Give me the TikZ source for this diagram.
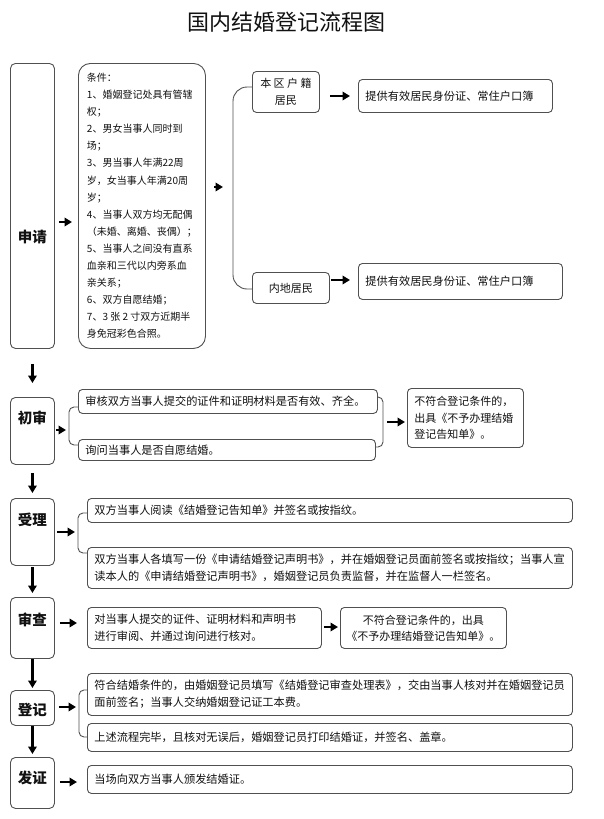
\documentclass[tikz,border=0pt]{standalone}
\usepackage{fontspec}
\setmainfont{Noto Sans CJK SC}
\usetikzlibrary{arrows.meta}
\definecolor{boxc}{HTML}{505050}
\definecolor{txtc}{HTML}{111111}
\begin{document}
\begin{tikzpicture}[x=1pt,y=-1pt,
  every node/.style={text=txtc},
  box/.style={draw=boxc, line width=0.9pt, rounded corners=4pt, anchor=north west, inner ysep=0pt, inner xsep=7pt, align=left, font=\fontsize{11.2pt}{17pt}\selectfont},
  stage/.style={draw=boxc, line width=0.9pt, rounded corners=5pt, anchor=north west, inner sep=0pt, minimum width=44pt},
  lab/.style={font=\fontsize{14.5pt}{16pt}\selectfont\bfseries, inner sep=0pt},
  arr/.style={draw=black, line width=2.3pt, -{Triangle[length=7.5pt,width=8.5pt]}},
  brk/.style={draw=boxc, line width=0.9pt, rounded corners=5pt},
]
\useasboundingbox[fill=white] (0,0) rectangle (603,819);

% title
\node[font=\fontsize{22pt}{24pt}\selectfont, inner sep=0pt] (title) at (286,22) {国内结婚登记流程图};

% stage boxes
\node[stage, minimum height=285pt] (shenqing) at (10,63) {};
\node[stage, minimum height=67pt] (chushen) at (10,397) {};
\node[stage, minimum height=67pt] (shouli) at (10,498) {};
\node[stage, minimum height=61pt] (shencha) at (10,597) {};
\node[stage, minimum height=35pt] (dengji) at (10,690) {};
\node[stage, minimum height=51pt] (fazheng) at (10,757) {};

\node[lab] (shenqing-l) at (shenqing.center |- 0,237) {申请};
\node[lab] (chushen-l) at (chushen.center |- 0,418) {初审};
\node[lab] (shouli-l) at (shouli.center |- 0,520) {受理};
\node[lab] (shencha-l) at (shencha.center |- 0,620) {审查};
\node[lab] (dengji-l) at (dengji.center |- 0,710) {登记};
\node[lab] (fazheng-l) at (fazheng.center |- 0,778) {发证};

% 申请 row
\node[box, rounded corners=12pt, align=left, inner xsep=0pt, minimum width=127pt, minimum height=285pt, font=\fontsize{10pt}{17.1pt}\selectfont] (conds) at (78,63)
{条件：\\1、婚姻登记处具有管辖\\权；\\2、男女当事人同时到\\场；\\3、男当事人年满22周\\岁，女当事人年满20周\\岁；\\4、当事人双方均无配偶\\（未婚、离婚、丧偶）；\\5、当事人之间没有直系\\血亲和三代以内旁系血\\亲关系；\\6、双方自愿结婚；\\7、3 张 2 寸双方近期半\\身免冠彩色合照。};

\node[box, align=center, inner xsep=0pt, minimum width=67pt, minimum height=41pt, font=\fontsize{11pt}{17pt}\selectfont] (benqu) at (252,71) {本 区 户 籍\\居民};
\node[box, align=center, inner xsep=0pt, minimum width=77pt, minimum height=31pt, font=\fontsize{11pt}{17pt}\selectfont] (neidi) at (252,272) {内地居民};
\node[box, text width=180pt, minimum height=33pt] (tigong1) at (358,79) {提供有效居民身份证、常住户口簿};
\node[box, text width=190pt, minimum height=36pt] (tigong2) at (358,263) {提供有效居民身份证、常住户口簿\\[-6pt]};

\coordinate (jbrk) at (233,187);
\draw[arr, shorten <=4pt, shorten >=6pt] (shenqing.east |- 0,222) -- (conds.west |- 0,222);
\draw[arr, shorten <=8pt, shorten >=10pt] (conds.east |- jbrk) -- (jbrk);
\draw[brk, rounded corners=14pt] (benqu.west |- 0,87) -- (jbrk |- 0,87) -- (jbrk |- 0,289) -- (neidi.west |- 0,289);
\draw[arr, shorten <=10pt, shorten >=8pt] (benqu.east |- 0,96) -- (tigong1.west |- 0,96);
\draw[arr, shorten <=1pt, shorten >=8pt] (neidi.east |- 0,280) -- (tigong2.west |- 0,280);

% 初审 row
\node[box, text width=285pt, minimum height=24pt] (shenhe) at (78,389) {审核双方当事人提交的证件和证明材料是否有效、齐全。};
\node[box, text width=283pt, minimum height=21pt] (xunwen) at (78,439) {询问当事人是否自愿结婚。};
\node[box, text width=102pt, minimum height=59pt, font=\fontsize{11pt}{16.5pt}\selectfont] (buhege1) at (407,388) {不符合登记条件的，\\出具《不予办理结婚\\登记告知单》。};
\coordinate (csb) at (69,430);
\coordinate (csr) at (383,422);
\draw[arr, shorten <=1pt, shorten >=3pt] (chushen.east |- csb) -- (csb);
\draw[brk] (shenhe.west |- 0,407) -- (csb |- 0,407) -- (csb |- 0,445) -- (xunwen.west |- 0,445);
\draw[brk] (shenhe.east |- 0,397) -- (csr |- 0,397) -- (csr |- 0,447) -- (xunwen.east |- 0,447);
\draw[arr, shorten <=4pt, shorten >=2pt] (csr) -- (buhege1.west |- csr);

% 受理 row
\node[box, text width=471pt, minimum height=24pt] (yuedu) at (87,498) {双方当事人阅读《结婚登记告知单》并签名或按指纹。};
\node[box, text width=471pt, minimum height=41pt] (tianxie) at (87,547) {双方当事人各填写一份《申请结婚登记声明书》，并在婚姻登记员面前签名或按指纹；当事人宣\\读本人的《申请结婚登记声明书》，婚姻登记员负责监督，并在监督人一栏签名。};
\coordinate (slb) at (78,532);
\draw[arr, shorten <=2pt, shorten >=3pt] (shouli.east |- slb) -- (slb);
\draw[brk] (yuedu.west |- 0,513) -- (slb |- 0,513) -- (slb |- 0,553) -- (tianxie.west |- 0,553);

% 审查 row
\node[box, text width=220pt, minimum height=41pt] (duidang) at (87,607) {对当事人提交的证件、证明材料和声明书\\进行审阅、并通过询问进行核对。};
\node[box, align=center, inner xsep=0pt, minimum width=166pt, minimum height=41pt, font=\fontsize{11pt}{16pt}\selectfont] (buhege2) at (340,607) {不符合登记条件的，出具\\《不予办理结婚登记告知单》。};
\draw[arr, shorten <=5pt, shorten >=10pt] (shencha.east |- 0,623) -- (duidang.west |- 0,623);
\draw[arr, shorten <=2pt, shorten >=2pt] (duidang.east |- 0,627) -- (buhege2.west |- 0,627);

% 登记 row
\node[box, text width=471pt, minimum height=42pt] (fuhe) at (87,673) {符合结婚条件的，由婚姻登记员填写《结婚登记审查处理表》，交由当事人核对并在婚姻登记员\\面前签名；当事人交纳婚姻登记证工本费。};
\node[box, text width=471pt, minimum height=28pt] (shangshu) at (87,723) {上述流程完毕，且核对无误后，婚姻登记员打印结婚证，并签名、盖章。};
\coordinate (djb) at (79,707);
\draw[arr, shorten <=4pt, shorten >=3pt] (dengji.east |- djb) -- (djb);
\draw[brk] (fuhe.west |- 0,690) -- (djb |- 0,690) -- (djb |- 0,737) -- (shangshu.west |- 0,737);

% 发证 row
\node[box, text width=471pt, minimum height=28pt] (dangchang) at (87,765) {当场向双方当事人颁发结婚证。};
\draw[arr, shorten <=5pt, shorten >=10pt] (fazheng.east |- 0,782) -- (dangchang.west |- 0,782);

% vertical flow
\draw[arr, shorten <=15pt, shorten >=14pt] (shenqing.south) -- (chushen.north);
\draw[arr, shorten <=8pt, shorten >=5pt] (chushen.south) -- (shouli.north);
\draw[arr, shorten <=1pt, shorten >=4pt] (shouli.south) -- (shencha.north);
\draw[arr, shorten <=0pt, shorten >=2pt] (shencha.south) -- (dengji.north);
\draw[arr, shorten <=0pt, shorten >=3pt] (dengji.south) -- (fazheng.north);
\end{tikzpicture}
\end{document}
